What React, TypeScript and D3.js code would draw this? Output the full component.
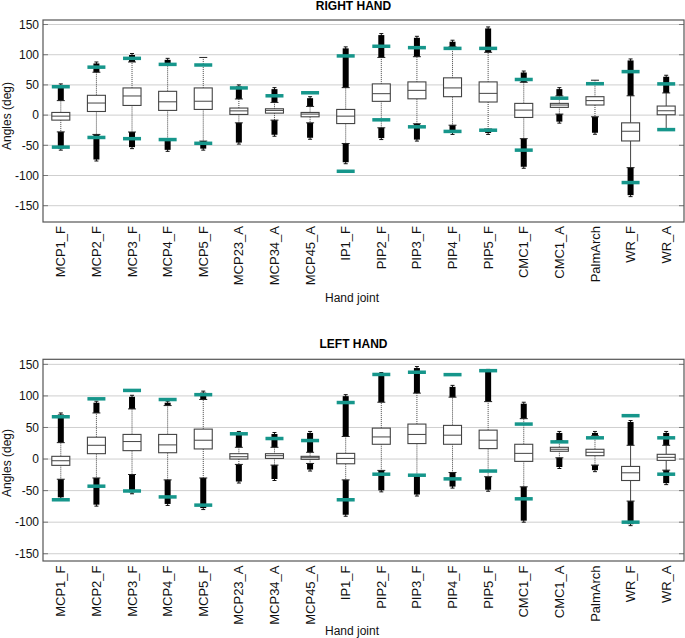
import React from "react";
import * as d3 from "d3";

const joints = ["MCP1_F","MCP2_F","MCP3_F","MCP4_F","MCP5_F","MCP23_A","MCP34_A","MCP45_A","IP1_F","PIP2_F","PIP3_F","PIP4_F","PIP5_F","CMC1_F","CMC1_A","PalmArch","WR_F","WR_A"];
const yTicks = [150, 100, 50, 0, -50, -100, -150];

// RIGHT HAND
const rightQ3 = [4.4, 32.8, 45, 39.4, 45, 11.7, 10.5, 4.4, 9.4, 51.7, 55, 61.7, 55, 19.4, 19.4, 30.5, -12.8, 15];
const rightMed = [-1.7, 20, 31.7, 22, 23, 7, 7.8, 1.7, -1.7, 35.5, 41, 45, 36, 8.3, 16.7, 24, -26.7, 7.2];
const rightQ1 = [-8.3, 6, 16, 7.8, 9.4, 1.1, 3.3, -2.8, -14, 22.8, 27, 30.5, 21.7, -3.9, 12.8, 16.7, -42.8, 0.6];
const rightWhiskerHi = [24, 71, 88, 85, 95.5, 26.7, 21, 14.4, 45.5, 95.5, 96.7, 113, 104, 54.4, 31.7, 57.8, 32, 36.7];
const rightWhiskerLo = [-27.8, -32, -28, -39, -43, -12.8, -8.3, -12.8, -47, -21, -14.4, -16.7, -23, -39, 1.7, -2.8, -87, -23];
const rightOutHi = [51.7, 88, 102, 94, 95.5, 50, 45.5, 30.5, 113, 135, 130.5, 124, 146, 73, 45.5, 57.8, 93, 66];
const rightOutLo = [-58, -76, -55.5, -60, -58, -48, -35, -40, -80.5, -40.5, -43, -32, -32, -88, -13.3, -31.7, -135, -23];
const rightNormHi = [47, 79.4, 94, 84, 83, 45, 32, 37, 98, 114, 111.7, 110.5, 110.5, 59, 28, 52, 72, 51.7];
const rightNormLo = [-53, -37, -39, -40.5, -46.7, null, null, null, -93, -7.8, -19.4, -27, -25, -58, null, null, -111.7, -24];

// LEFT HAND
const leftQ3 = [4.3, 34.6, 39, 39, 47.4, 8.5, 8.5, 4.3, 9, 49, 55.4, 53.3, 45.8, 23.4, 18.6, 15.5, -11.7, 7.5];
const leftMed = [-2.7, 21.8, 27.7, 22.4, 29.8, 3.7, 5.3, 2.1, 1, 35, 39, 37.8, 29.8, 9, 15.5, 10.7, -21.8, 2.7];
const leftQ1 = [-10, 8.5, 13.3, 10, 16, 0, 1, -0.5, -7.5, 23.4, 24.5, 23.4, 16.5, -3.7, 12.3, 5.3, -34, -2.1];
const leftWhiskerHi = [26, 73, 79.4, 84.7, 94.3, 18.6, 18.6, 10.7, 35.7, 90, 104.4, 98, 91, 64, 29.3, 36.8, 21.8, 21.8];
const leftWhiskerLo = [-32, -30, -24.5, -33, -30, -8.5, -9.6, -7, -33, -18, -25.6, -21.3, -28, -44, 2, -9.6, -66.6, -17.6];
const leftOutHi = [73, 91.6, 101, 91.6, 107.6, 43.7, 42, 43.7, 102, 137, 146.5, 116.7, 142, 90, 43.7, 43.7, 61, 43.7];
const leftOutLo = [-63, -74.6, -55, -73.5, -80, -38, -34, -19, -90.6, -52, -58.6, -46, -51, -100, -15, -20, -105.5, -40.5];
const leftNormHi = [67, 95.4, 108.7, 94.3, 102, 40, 32.5, 29.3, 89.5, 134, 137.5, 133.7, 140, 55.4, 27.2, 33.6, 68.7, 33.6];
const leftNormLo = [-64.5, -43, -50.6, -60, -73, null, null, null, -64.5, -24, -25.6, -31.4, -19, -63, null, null, -100, -24];

const FONT = "'Liberation Sans', Arial, Helvetica, sans-serif";
const TEAL = "#16968b";

type PanelData = {
  q1: number[]; med: number[]; q3: number[];
  wLo: number[]; wHi: number[]; oLo: number[]; oHi: number[];
  nLo: (number | null)[]; nHi: (number | null)[];
};

type PanelProps = {
  title: string;
  top: number; bottom: number; domain: [number, number];
  titleY: number; ylabelY: number; labelsTop: number; xlabelY: number;
  data: PanelData;
};

const LEFT = 43, RIGHT = 684;

function Panel({ title, top, bottom, domain, titleY, ylabelY, labelsTop, xlabelY, data }: PanelProps) {
  const x = d3.scaleBand<string>().domain(joints).range([LEFT, RIGHT]).padding(0);
  const y = d3.scaleLinear().domain(domain).range([bottom, top]);
  const bw = x.bandwidth();
  const boxW = 18, normW = 18, outW = 6, capW = 8;
  return (
    <g>
      <text x={353.5} y={titleY} textAnchor="middle" fontFamily={FONT} fontWeight="bold" fontSize={12}>{title}</text>
      {yTicks.map((t) => (
        <g key={t}>
          <line x1={LEFT} x2={RIGHT} y1={y(t)} y2={y(t)} stroke="#cfcfcf" strokeWidth={1} />
          <line x1={LEFT} x2={LEFT + 5} y1={y(t)} y2={y(t)} stroke="#777" strokeWidth={1} />
          <line x1={RIGHT - 5} x2={RIGHT} y1={y(t)} y2={y(t)} stroke="#777" strokeWidth={1} />
          <text x={39} y={y(t)} dy="0.35em" textAnchor="end" fontFamily={FONT} fontSize={12} fill="#111">{t}</text>
        </g>
      ))}
      <rect x={LEFT} y={top} width={RIGHT - LEFT} height={bottom - top} fill="none" stroke="#555" strokeWidth={1.2} />
      <text transform={`translate(11,${ylabelY}) rotate(-90)`} textAnchor="middle" fontFamily={FONT} fontSize={12} fill="#111">Angles (deg)</text>
      {joints.map((j, i) => {
        const cx = (x(j) as number) + bw / 2;
        const solid = j.startsWith("WR");
        const q1 = y(data.q1[i]), q3 = y(data.q3[i]), med = y(data.med[i]);
        const wHi = y(data.wHi[i]), wLo = y(data.wLo[i]);
        const oHi = y(data.oHi[i]), oLo = y(data.oLo[i]);
        const nHi = data.nHi[i], nLo = data.nLo[i];
        return (
          <g key={j}>
            <line x1={cx} x2={cx} y1={q3} y2={wHi} stroke="#444" strokeWidth={1} strokeDasharray={solid ? undefined : "1,1"} />
            <line x1={cx} x2={cx} y1={q1} y2={wLo} stroke="#444" strokeWidth={1} strokeDasharray={solid ? undefined : "1,1"} />
            {oHi < wHi - 0.5 && (
              <g>
                <line x1={cx} x2={cx} y1={oHi} y2={wHi} stroke="#111" strokeWidth={1} />
                <rect x={cx - outW / 2} y={oHi + 1.5} width={outW} height={Math.max(0, wHi - oHi - 1.5)} fill="#000" />
                <line x1={cx - 2} x2={cx + 2} y1={oHi} y2={oHi} stroke="#111" strokeWidth={1} />
              </g>
            )}
            {oLo > wLo + 0.5 && (
              <g>
                <line x1={cx} x2={cx} y1={wLo} y2={oLo} stroke="#111" strokeWidth={1} />
                <rect x={cx - outW / 2} y={wLo} width={outW} height={Math.max(0, oLo - wLo - 1.5)} fill="#000" />
                <line x1={cx - 2} x2={cx + 2} y1={oLo} y2={oLo} stroke="#111" strokeWidth={1} />
              </g>
            )}
            <line x1={cx - capW / 2} x2={cx + capW / 2} y1={wHi} y2={wHi} stroke="#222" strokeWidth={1} />
            <line x1={cx - capW / 2} x2={cx + capW / 2} y1={wLo} y2={wLo} stroke="#222" strokeWidth={1} />
            <rect x={cx - boxW / 2} y={q3} width={boxW} height={Math.max(1, q1 - q3)} fill="#fff" stroke="#444" strokeWidth={1.1} />
            <line x1={cx - boxW / 2} x2={cx + boxW / 2} y1={med} y2={med} stroke="#444" strokeWidth={1} />
            {nHi !== null && (
              <rect x={cx - normW / 2} y={y(nHi) - 1.75} width={normW} height={3.5} fill={TEAL} />
            )}
            {nLo !== null && (
              <rect x={cx - normW / 2} y={y(nLo) - 1.75} width={normW} height={3.5} fill={TEAL} />
            )}
            <text transform={`translate(${cx},${labelsTop}) rotate(-90)`} dy="0.35em" textAnchor="end" fontFamily={FONT} fontSize={13} fill="#111">{j}</text>
          </g>
        );
      })}
      <text x={352} y={xlabelY} textAnchor="middle" fontFamily={FONT} fontSize={12} fill="#111">Hand joint</text>
    </g>
  );
}

export default function App() {
  const right: PanelData = { q1: rightQ1, med: rightMed, q3: rightQ3, wLo: rightWhiskerLo, wHi: rightWhiskerHi, oLo: rightOutLo, oHi: rightOutHi, nLo: rightNormLo, nHi: rightNormHi };
  const left: PanelData = { q1: leftQ1, med: leftMed, q3: leftQ3, wLo: leftWhiskerLo, wHi: leftWhiskerHi, oLo: leftOutLo, oHi: leftOutHi, nLo: leftNormLo, nHi: leftNormHi };
  return (
    <svg width={685} height={638} style={{ position: "absolute", left: 0, top: 0, background: "#fff" }}>
      <Panel title="RIGHT HAND" top={20} bottom={222} domain={[-177, 157.5]} titleY={9.5} ylabelY={116} labelsTop={226} xlabelY={302} data={right} />
      <Panel title="LEFT HAND" top={359.3} bottom={561} domain={[-161.5, 158]} titleY={348} ylabelY={463} labelsTop={565.5} xlabelY={635} data={left} />
    </svg>
  );
}
